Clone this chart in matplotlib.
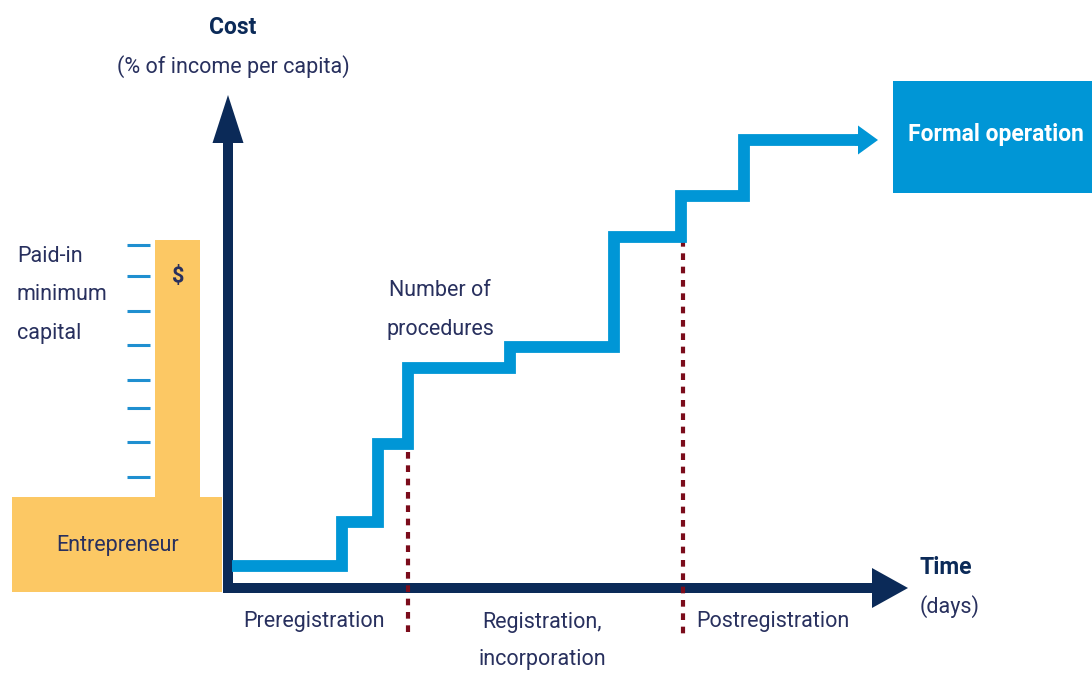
import matplotlib
matplotlib.use("Agg")
import matplotlib.pyplot as plt
from matplotlib.patches import Rectangle

# staircase of procedures (pixel-like diagram coordinates)
step_x = [232, 342, 378, 408, 510, 614, 681, 744, 878]
step_y = [566, 522, 444, 368, 347, 237, 196, 140]

# phase dividers
divider_x = [408, 683]
divider_top = [452, 240]

# paid-in capital tick marks
tick_y = [245, 276, 311, 345, 380, 408, 442, 477]

phase_labels = ["Preregistration", "Registration,\nincorporation", "Postregistration"]
phase_x = [314, 542, 773]
phase_y = [622, 641, 622]

navy = "#0b2a58"
blue = "#0096d6"
orange = "#fcc864"
red = "#7b0c1b"
txt = "#28305e"

plt.rcParams['font.family'] = ['Roboto', 'DejaVu Sans']

fig = plt.figure(figsize=(10.92, 6.77), dpi=100)
ax = fig.add_axes([0, 0, 1, 1])
ax.set_xlim(0, 1092)
ax.set_ylim(677, 0)
ax.axis('off')

# entrepreneur block and capital column
ax.add_patch(Rectangle((12, 497), 210, 95, color=orange, lw=0))
ax.add_patch(Rectangle((155, 240), 45, 257, color=orange, lw=0))
for y in tick_y:
    ax.plot([127, 150], [y, y], color="#1f8fd0", lw=2.2, solid_capstyle='butt')

# dotted dividers
for x, top in zip(divider_x, divider_top):
    ax.plot([x, x], [top, 638], color=red, lw=3, linestyle=(0, (1.6, 1.6)))

# staircase line
xs, ys = [], []
for i, y in enumerate(step_y):
    xs += [step_x[i], step_x[i + 1]]
    ys += [y, y]
ax.plot(xs[:-1] + [860], ys, color=blue, lw=8.5,
        solid_joinstyle='miter', solid_capstyle='butt')
ax.arrow(855, step_y[-1], step_x[-1] - 855, 0, width=11, head_width=29,
         head_length=20, length_includes_head=True, color=blue, lw=0)

# axes arrows
ax.arrow(228, 593, 0, 95 - 593, width=10, head_width=31, head_length=48,
         length_includes_head=True, color=navy, lw=0)
ax.arrow(223, 588, 908 - 223, 0, width=10, head_width=40, head_length=36,
         length_includes_head=True, color=navy, lw=0)

# formal operation box
ax.add_patch(Rectangle((893, 81), 210, 112, color=blue, lw=0))
ax.text(908, 135, "Formal operation", color="white", fontsize=16.5,
        fontweight='bold', ha='left', va='center')

# texts
fs = 15.5
ax.text(233, 28, "Cost", color=navy, fontsize=16.5, fontweight='bold', ha='center', va='center')
ax.text(233, 67, "(% of income per capita)", color=txt, fontsize=fs, ha='center', va='center')
ax.text(920, 568, "Time", color=navy, fontsize=16.5, fontweight='bold', ha='left', va='center')
ax.text(920, 607, "(days)", color=txt, fontsize=fs, ha='left', va='center')
ax.text(17, 295, "Paid-in\nminimum\ncapital", color=txt, fontsize=fs, ha='left', va='center',
        linespacing=2.1)
ax.text(178, 277, "$", color=txt, fontsize=fs, fontweight='bold', ha='center', va='center')
ax.text(118, 545, "Entrepreneur", color=txt, fontsize=fs, ha='center', va='center')
ax.text(440, 310, "Number of\nprocedures", color=txt, fontsize=fs, ha='center', va='center',
        linespacing=2.1)
for lab, x, y in zip(phase_labels, phase_x, phase_y):
    ax.text(x, y, lab, color=txt, fontsize=fs, ha='center', va='center', linespacing=2.05)

fig.savefig("out.png", dpi=100)
